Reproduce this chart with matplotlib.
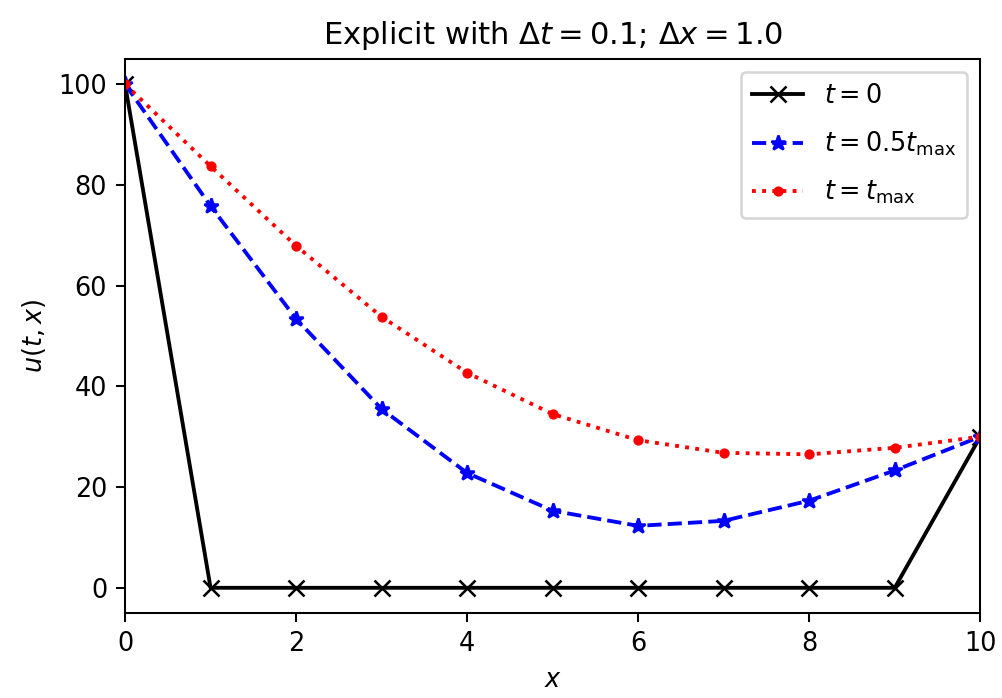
import matplotlib
matplotlib.use("Agg")
import matplotlib.pyplot as plt
import numpy as np

x = [0, 1, 2, 3, 4, 5, 6, 7, 8, 9, 10]
u_t0 = [100, 0, 0, 0, 0, 0, 0, 0, 0, 0, 30]
u_half = [100, 75.8, 53.4, 35.5, 22.8, 15.3, 12.3, 13.3, 17.3, 23.3, 30]
u_max = [100, 83.7, 67.9, 53.8, 42.7, 34.5, 29.3, 26.8, 26.5, 27.8, 30]

dpi = 184
fig = plt.figure(figsize=(1002 / dpi, 698 / dpi), dpi=dpi)
ax = fig.add_axes([0.1248, 0.1218, 0.8535, 0.7937])

ax.plot(x, u_t0, 'k-x', label=r'$t = 0$')
ax.plot(x, u_half, 'b--*', label=r'$t = 0.5t_\mathrm{max}$')
ax.plot(x, u_max, 'r:.', label=r'$t = t_\mathrm{max}$')

ax.set_xlim(0, 10)
ax.set_title(r'Explicit with $\Delta t = 0.1$; $\Delta x = 1.0$')
ax.set_xlabel(r'$x$')
ax.set_ylabel(r'$u(t, x)$')
ax.legend(loc='upper right', labelspacing=0.8, borderpad=0.45)

fig.savefig('out.png', dpi=dpi)
